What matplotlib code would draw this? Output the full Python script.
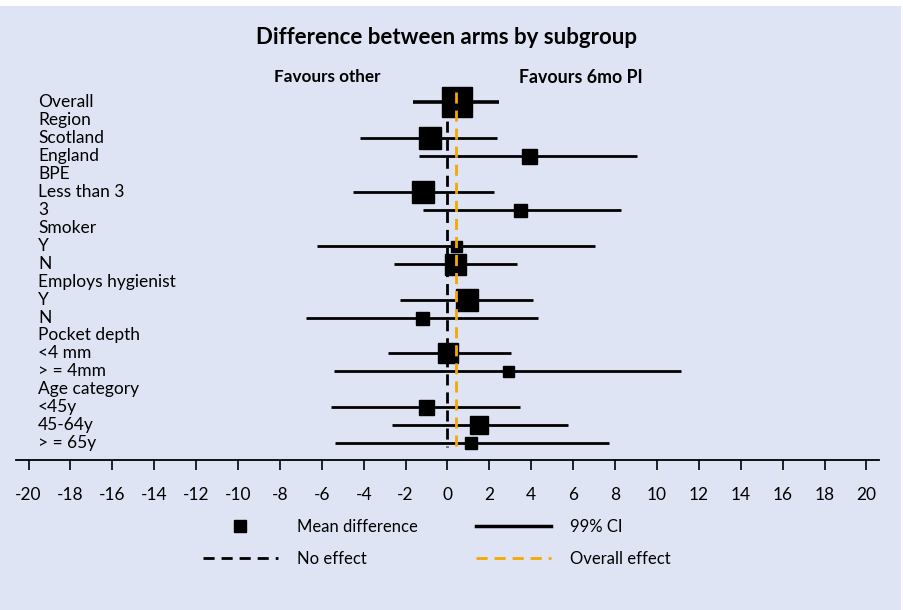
import matplotlib
matplotlib.use("Agg")
import matplotlib.pyplot as plt
from matplotlib.lines import Line2D
from matplotlib.patches import Rectangle
import matplotlib.transforms as mtransforms

plt.rcParams['font.family'] = ['Lato', 'DejaVu Sans']

# rows, top to bottom (headers have no estimate)
labels = ["Overall", "Region", "Scotland", "England", "BPE", "Less than 3", "3",
          "Smoker", "Y", "N", "Employs hygienist", "Y", "N", "Pocket depth",
          "<4 mm", "> = 4mm", "Age category", "<45y", "45-64y", "> = 65y"]
mean_diff = [0.43, None, -0.84, 3.89, None, -1.19, 3.46, None, 0.41, 0.36,
             None, 0.95, -1.22, None, 0.04, 2.89, None, -1.03, 1.48, 1.10]
ci_low = [-1.67, None, -4.20, -1.38, None, -4.50, -1.16, None, -6.22, -2.57,
          None, -2.27, -6.76, None, -2.83, -5.44, None, -5.55, -2.63, -5.39]
ci_high = [2.47, None, 2.37, 9.07, None, 2.23, 8.26, None, 7.05, 3.33,
           None, 4.07, 4.30, None, 3.04, 11.17, None, 3.48, 5.73, 7.73]
# square size in pixels (weight of subgroup)
box_px = [30, None, 23, 15, None, 22, 13, None, 11, 21,
          None, 22, 13, None, 20, 11, None, 15, 18, 12]
overall_effect = 0.42
xticks = list(range(-20, 21, 2))

bg = "#dfe4f4"
W, H = 904, 610
fig = plt.figure(figsize=(W / 100, H / 100), dpi=100, facecolor="white")
fig.patches.append(Rectangle((0, 0), 901 / W, 604 / H, transform=fig.transFigure,
                             facecolor=bg, edgecolor="none", zorder=-10))

ax = fig.add_axes([16 / W, 150 / H, 863 / W, 400 / H])
ax.set_facecolor("none")
ax.set_xlim(-20.6, 20.6)
ax.set_ylim(19.94, -2.35)

for i, lab in enumerate(labels):
    if mean_diff[i] is None:
        continue
    lw = 2.6 if i == 0 else 2.0
    ax.plot([ci_low[i], ci_high[i]], [i, i], color="black", lw=lw,
            solid_capstyle="butt", zorder=2)
    ax.plot(mean_diff[i], i, marker="s", color="black",
            markersize=box_px[i] * 0.72, zorder=3)

ymin, ymax = -0.55, len(labels) - 0.8
ax.plot([0, 0], [ymin + 0.6, ymax], color="black", lw=2, ls=(0, (4, 2.5)), zorder=1)
ax.plot([overall_effect, overall_effect], [ymin, ymax], color="#f5a800", lw=2,
        ls=(0, (4, 2.5)), zorder=4)

# row labels
trans = mtransforms.blended_transform_factory(fig.transFigure, ax.transData)
for i, lab in enumerate(labels):
    ax.text(38 / W, i, lab, transform=trans, ha="left", va="center", fontsize=12.5)

ax.text(-5.75, -1.4, "Favours other", ha="center", va="center", fontsize=12.3,
        fontweight="bold")
ax.text(6.35, -1.4, "Favours 6mo PI", ha="center", va="center", fontsize=12.8,
        fontweight="bold")
fig.text(447 / W, 1 - 37 / H, "Difference between arms by subgroup", ha="center",
         va="center", fontsize=16, fontweight="bold")

for s in ["top", "left", "right"]:
    ax.spines[s].set_visible(False)
ax.spines["bottom"].set_linewidth(1.3)
ax.set_yticks([])
ax.set_xticks(xticks)
ax.set_xticklabels([str(t) for t in xticks], fontsize=12.5)
ax.tick_params(axis="x", length=7, width=1.2, pad=12.5)

handles = [
    Line2D([], [], color="black", marker="s", ls="none", markersize=9),
    Line2D([], [], color="black", lw=2, ls=(0, (4, 2.5))),
    Line2D([], [], color="black", lw=2.5),
    Line2D([], [], color="#f5a800", lw=2, ls=(0, (4, 2.5))),
]
names = ["Mean difference", "No effect", "99% CI", "Overall effect"]
fig.legend(handles, names, ncol=2, loc="upper left",
           bbox_to_anchor=(203 / W, 1 - 519 / H), frameon=False, fontsize=12,
           handlelength=4.5, handletextpad=1.15, columnspacing=3.45,
           labelspacing=0.95, borderpad=0, borderaxespad=0)

fig.savefig("out.png", dpi=100, facecolor="white")
